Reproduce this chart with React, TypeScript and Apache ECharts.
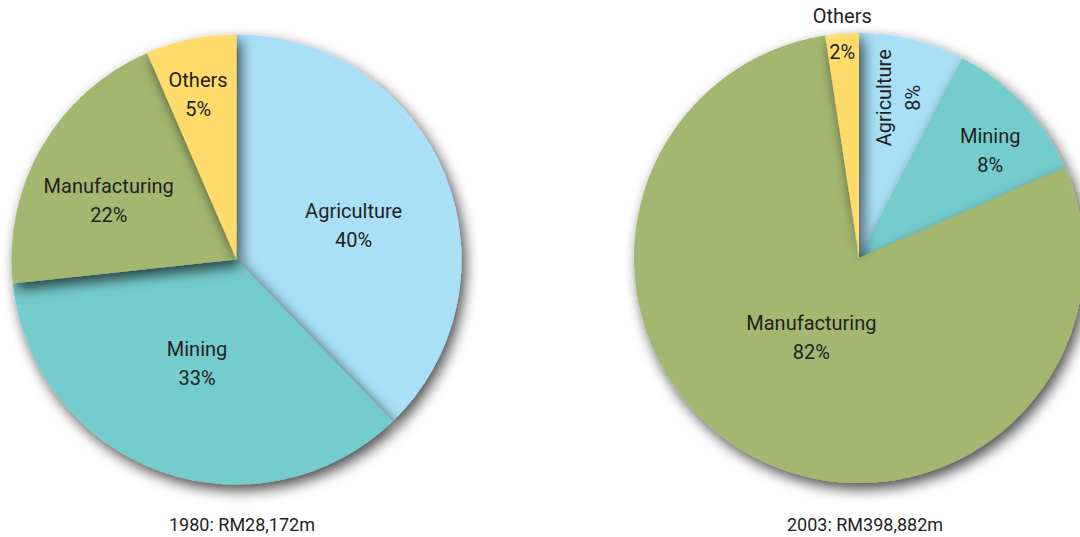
import React, { useEffect, useRef } from "react";
import * as echarts from "echarts";

const categories = ["Agriculture", "Mining", "Manufacturing", "Others"];
const colors = ["#a9dff7", "#74cccd", "#a3b770", "#fedb6a"];

// slice sizes as drawn in the reference (percent of the circle)
const values1980 = [37.8, 35.5, 20.2, 6.5];
const values2003 = [7.6, 10.8, 79.2, 2.4];
// percentages printed on the slices
const labels1980 = ["40%", "33%", "22%", "5%"];
const labels2003 = ["8%", "8%", "82%", "2%"];

const caption1980 = "1980: RM28,172m";
const caption2003 = "2003: RM398,882m";

// label nudges (styling only; rotated label nudged in its own frame)
const nudge1980 = [[10, 9], [0, -5], [-28, -1], [-15, -52]];
const nudge2003 = [[48, 12], [47, -28], [8, -22], [-8, -109]];

const FONT = 'Roboto, "Liberation Sans Narrow", sans-serif';
const TEXT = "#231f20";

function buildData(values: number[], labels: string[], special: boolean) {
  return categories.map((name, i) => {
    const item: any = {
      name,
      value: values[i],
      itemStyle: { color: colors[i] },
      label: { formatter: `${name}\n${labels[i]}` },
    };
    if (special && name === "Agriculture") {
      item.label = { formatter: `${name}\n${labels[i]}`, rotate: 90 };
    }
    if (special && name === "Others") {
      item.label = { formatter: `${name}\n${labels[i]}`, lineHeight: 36 };
    }
    return item;
  });
}

function pieSeries(values: number[], labels: string[], center: number[], nudge: number[][], special: boolean) {
  return {
    type: "pie",
    center,
    radius: 225,
    startAngle: 90,
    clockwise: true,
    silent: true,
    data: buildData(values, labels, special),
    itemStyle: {
      borderWidth: 0,
      shadowBlur: 14,
      shadowOffsetX: 4,
      shadowOffsetY: 6,
      shadowColor: "rgba(0,0,0,0.7)",
    },
    label: {
      show: true,
      position: "inside",
      color: TEXT,
      fontFamily: FONT,
      fontSize: 20,
      lineHeight: 29,
      align: "center",
      textBorderWidth: 0,
    },
    labelLine: { show: false },
    labelLayout: (p: any) => ({ dx: nudge[p.dataIndex][0], dy: nudge[p.dataIndex][1] }),
  };
}

export default function App() {
  const ref = useRef<HTMLDivElement>(null);
  useEffect(() => {
    if (!ref.current) return;
    const chart = echarts.init(ref.current, null, { renderer: "svg" });
    chart.setOption({
      animation: false,
      backgroundColor: "#ffffff",
      title: [
        {
          text: caption1980,
          left: 237,
          top: 510,
          textAlign: "center",
          textStyle: { fontFamily: FONT, fontSize: 18, fontWeight: "normal", color: TEXT },
        },
        {
          text: caption2003,
          left: 860,
          top: 510,
          textAlign: "center",
          textStyle: { fontFamily: FONT, fontSize: 18, fontWeight: "normal", color: TEXT },
        },
      ],
      series: [
        pieSeries(values1980, labels1980, [236.5, 259.5], nudge1980, false),
        pieSeries(values2003, labels2003, [859, 258], nudge2003, true),
      ],
    });
    return () => chart.dispose();
  }, []);
  return <div ref={ref} style={{ width: 1080, height: 537, position: "absolute", left: 0, top: 0 }} />;
}
